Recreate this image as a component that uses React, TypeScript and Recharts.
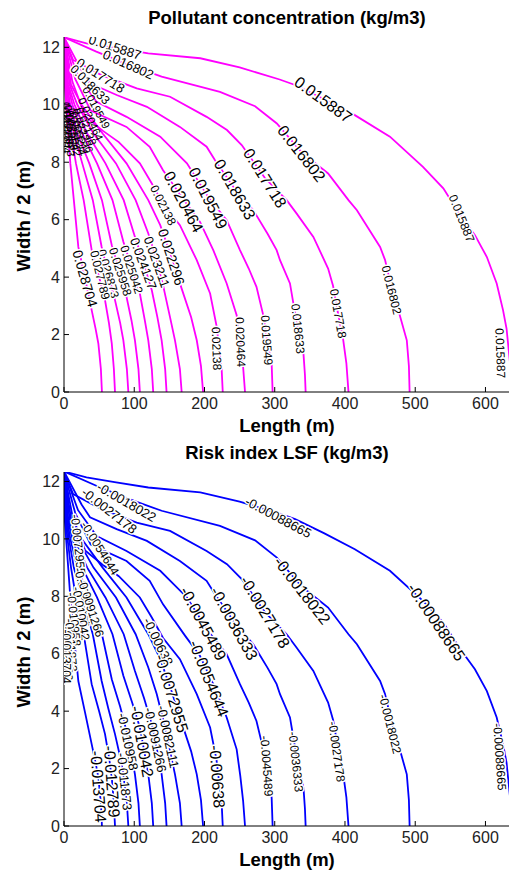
import React from 'react';
import { ComposedChart, Line, Scatter, XAxis, YAxis } from 'recharts';

type P = { x: number; y: number };
const pts = (a: number[][]): P[] => a.map(([x, y]) => ({ x, y }));

// contour paths (Length m, Width/2 m), outermost first
const c0 = pts([[0,12.35],[32,12.14],[72,11.98],[120,11.79],[194,11.62],[250,11.3],[307,10.88],[329,10.69],[370,10.2],[414,9.64],[464,8.89],[511,7.84],[540,7.09],[563,6.2],[585,5.46],[602,4.7],[616,3.78],[625,2.85],[630,2.21],[635,1.0],[637,0]]);
const c1 = pts([[0,12.35],[46,11.85],[91,11.4],[139,10.98],[222,10.45],[272,9.95],[303,9.35],[338,8.35],[376,7.61],[405,6.68],[417,6.33],[450,5.05],[457,4.6],[467,3.55],[478,2.67],[488,1.8],[491,0.9],[492,0]]);
const c2 = pts([[0,12.35],[13,11.56],[52,11.05],[103.5,10.57],[151,10.28],[203,9.58],[232,9.12],[253,8.6],[286,7.45],[317,6.68],[331,6.22],[355,5.4],[376,4.3],[383,3.7],[390,2.75],[397,1.9],[402,1.0],[405,0]]);
const c3 = pts([[0,12.35],[25,11.2],[37,10.75],[75,10.34],[118,9.93],[165,9.23],[203,8.54],[215,8.07],[243,7.08],[269.5,6.33],[290,5.5],[302.7,4.94],[307.5,4.59],[321.7,3.78],[326.4,3.1],[333,2.2],[341,1.3],[343,0.6],[344,0]]);
const c4 = pts([[0,12.35],[20,11.0],[46.5,10.1],[89,9.58],[137,8.89],[175,7.96],[205,6.8],[231.6,5.98],[250.5,4.94],[263,4.3],[274,3.66],[283.7,2.67],[289,1.8],[295.6,0.99],[297,0]]);
const c5 = pts([[0,12.35],[16,10.9],[38,9.8],[89,9.23],[122,8.54],[141,7.72],[172,6.64],[193.6,5.92],[212.5,4.94],[231.6,3.78],[245.8,2.67],[251,1.74],[255,0.87],[257.7,0]]);
const c6 = pts([[0,12.35],[12,10.8],[30,9.6],[55,9.1],[78,8.7],[108,7.96],[125,7.26],[141,6.55],[165,5.81],[189,4.59],[208,3.43],[217,2.32],[221,1.5],[224.5,0.76],[226,0]]);
const c7 = pts([[0,12.35],[10,10.7],[25,10.0],[55,9.0],[89,7.96],[120,6.68],[137,5.81],[153,4.7],[167.5,3.6],[181,2.6],[189,1.8],[195,0.9],[198,0]]);
const c8 = pts([[0,12.35],[8,10.7],[19,10.0],[42,9.0],[74,7.96],[102,6.68],[120,5.52],[132,4.6],[141,3.72],[151,2.6],[158,1.8],[165,0.8],[167.5,0]]);
const c9 = pts([[0,12.35],[6,10.7],[15,10.0],[33,9.0],[59,7.96],[85,6.68],[101,5.4],[114,4.45],[125,3.54],[133,2.6],[139,1.8],[144,0.8],[146,0]]);
const c10 = pts([[0,12.35],[5,10.7],[12,10.0],[26,9.0],[47,7.96],[69,6.68],[84.5,5.23],[97,4.3],[108,3.43],[115,2.5],[120,1.8],[125,0.8],[127,0]]);
const c11 = pts([[0,12.35],[4,10.7],[9,10.0],[19,9.0],[36,7.96],[54,6.68],[68,5.11],[80,4.15],[89,3.31],[96,2.5],[101,1.8],[106,0.8],[108,0]]);
const c12 = pts([[0,12.35],[3,10.7],[7,10.0],[14,9.0],[26,7.96],[41,6.68],[53.6,5.05],[63,4.1],[72.6,3.2],[80,2.4],[84.5,1.8],[89.5,0.8],[91.6,0]]);
const c13 = pts([[0,12.35],[2,10.7],[5,10.0],[10,9.0],[17,7.96],[28,6.68],[39.4,4.94],[50,4.0],[58.4,3.2],[64,2.4],[68,1.69],[71,0.8],[72.6,0]]);
const c14 = pts([[0,12.35],[1,10.7],[3,10.0],[6,9.0],[9,7.96],[14,6.68],[20.4,5.05],[30,3.95],[39.4,2.85],[45,2.2],[48.9,1.69],[52.5,0.8],[54,0]]);
const contours = [c0, c1, c2, c3, c4, c5, c6, c7, c8, c9, c10, c11, c12, c13, c14];

const xTicks = [0, 100, 200, 300, 400, 500, 600];
const yTicks = [0, 2, 4, 6, 8, 10, 12];

type L = { x: number; y: number; t: string; a: number; s: number; h: number };
const lab = (a: [number, number, string, number, number, number?][]): L[] =>
  a.map(([x, y, t, aa, s, h]) => ({ x, y, t, a: aa, s, h: h === undefined ? 1 : h }));

const concLabels = lab([
  [72.6, 12.0, '0.015887', 18, 13], [91.5, 11.4, '0.016802', 24, 13], [52, 11.02, '0.017718', 32, 13], [37, 10.7, '0.018633', 45, 12],
  [369, 10.18, '0.015887', 36, 16], [338, 8.3, '0.016802', 52, 16], [286, 7.45, '0.017718', 58, 16], [243, 7.05, '0.018633', 60, 16],
  [205, 6.75, '0.019549', 63, 16], [170, 6.62, '0.020464', 62, 16], [141, 6.5, '0.02138', 63, 12],
  [153, 4.7, '0.022296', 72, 14], [132, 4.53, '0.023211', 70, 13], [113, 4.47, '0.024127', 70, 13], [96, 4.26, '0.025042', 72, 12],
  [80, 4.18, '0.025958', 72, 12], [63, 4.12, '0.026873', 74, 12], [51, 4.07, '0.027789', 76, 12], [30, 3.95, '0.028704', 74, 14],
  [217, 1.51, '0.02138', 88, 12], [251, 1.74, '0.020464', 88, 12], [288.5, 1.8, '0.019549', 86, 12], [333, 2.2, '0.018633', 84, 12],
  [390, 2.73, '0.017718', 80, 12], [466, 3.55, '0.016802', 76, 12], [566, 6.04, '0.015887', 68, 12], [621, 1.35, '0.015887', 88, 12],
  [46, 9.9, '0.019549', 62, 11, 0], [38, 9.5, '0.020464', 66, 11, 0], [32, 9.25, '0.02138', 70, 11, 0], [27, 9.1, '0.022296', 72, 11, 0],
  [22, 9.0, '0.023211', 75, 11, 0], [18, 9.1, '0.024127', 78, 11, 0], [14, 9.0, '0.025042', 80, 11, 0], [10, 9.2, '0.025958', 82, 11, 0],
  [7, 9.0, '0.026873', 84, 11, 0], [5, 9.3, '0.027789', 86, 11, 0], [3, 9.1, '0.028704', 88, 11, 0],
]);

const lsfLabels = lab([
  [89, 11.28, '-0.0018022', 30, 13], [64.5, 10.98, '-0.0027178', 38, 13], [305, 10.75, '-0.00088665', 28, 13],
  [339, 8.2, '-0.0018022', 52, 16], [286, 7.45, '-0.0027178', 59, 16], [242, 7.05, '-0.0036333', 61, 16], [198, 7.05, '-0.0045489', 62, 16],
  [51, 9.67, '-0.0054644', 58, 12], [206, 5.14, '-0.0054644', 68, 16], [134, 6.42, '-0.00638', 64, 13], [153, 4.62, '-0.0072955', 73, 16],
  [148, 3.11, '-0.0082111', 78, 13], [130, 3.0, '-0.0091266', 78, 13], [111, 2.94, '-0.010042', 80, 16], [91, 2.94, '-0.010958', 78, 13],
  [86, 1.55, '-0.011873', 84, 13], [68, 1.55, '-0.012789', 86, 16], [49, 1.37, '-0.013704', 86, 16],
  [218, 1.72, '-0.00638', 86, 16], [288.5, 2.09, '-0.0045489', 86, 12], [330, 2.24, '-0.0036333', 84, 12], [388, 2.59, '-0.0027178', 82, 12],
  [464, 3.55, '-0.0018022', 76, 12], [530, 7.1, '-0.00088665', 56, 16], [620, 2.41, '-0.00088665', 86, 12],
  [20, 9.8, '-0.0072955', 84, 12], [30, 8.0, '-0.0082111', 76, 12], [38, 7.6, '-0.0091266', 72, 12], [24, 7.4, '-0.010042', 80, 12],
  [14, 7.2, '-0.010958', 84, 12], [10, 6.3, '-0.011873', 86, 12], [5, 6.0, '-0.012789', 88, 12], [3, 5.9, '-0.013704', 90, 12],
]);

const FONT = '"Liberation Sans", Arial, Helvetica, sans-serif';

const LabelShape = (props: any) => {
  const { cx, cy, payload } = props;
  if (cx == null || cy == null) return null;
  return (
    <text
      x={cx}
      y={cy}
      transform={`rotate(${payload.a} ${cx} ${cy})`}
      textAnchor="middle"
      dominantBaseline="central"
      fontSize={payload.s}
      fontFamily={FONT}
      fill="#000"
      stroke={payload.h ? '#fff' : 'none'}
      strokeWidth={3}
      strokeLinejoin="round"
      paintOrder="stroke"
    >
      {payload.t}
    </text>
  );
};

function Panel({ color, labels, height, yMax }: { color: string; labels: L[]; height: number; yMax: number }) {
  const tickStyle = { fill: '#222', fontSize: 16, fontFamily: FONT };
  return (
    <ComposedChart width={509} height={height} margin={{ top: 37, right: 0, bottom: 0, left: 0 }}>
      <XAxis xAxisId="b" type="number" dataKey="x" domain={[0, 633.5]} ticks={xTicks} interval={0} allowDataOverflow
        height={43} tickSize={-5} tickMargin={11} stroke="#000" tick={tickStyle} />
      <XAxis xAxisId="t" orientation="top" type="number" dataKey="x" domain={[0, 633.5]} ticks={xTicks} interval={0} allowDataOverflow
        height={0} tickSize={-5} stroke="#000" tick={false} />
      <YAxis yAxisId="l" type="number" dataKey="y" domain={[0, yMax]} ticks={yTicks} interval={0} allowDataOverflow
        width={64} tickSize={-5} tickMargin={9} stroke="#000" tick={tickStyle} />
      <YAxis yAxisId="r" orientation="right" type="number" dataKey="y" domain={[0, yMax]} ticks={yTicks} interval={0} allowDataOverflow
        width={0} tickSize={-5} stroke="#000" tick={false} />
      {contours.map((d, i) => (
        <Line key={i} xAxisId="b" yAxisId="l" data={d} dataKey="y" type="linear" stroke={color} strokeWidth={1.8}
          dot={false} activeDot={false} isAnimationActive={false} />
      ))}
      <Scatter xAxisId="b" yAxisId="l" data={labels} dataKey="y" shape={LabelShape} isAnimationActive={false} />
    </ComposedChart>
  );
}

export default function App() {
  const bold = { fontFamily: FONT, fontWeight: 700, fontSize: 18.5, fill: '#000' } as const;
  return (
    <div style={{ position: 'absolute', left: 0, top: 0, width: 509, height: 871, background: '#fff', overflow: 'hidden' }}>
      <div style={{ position: 'absolute', left: 0, top: 0 }}>
        <Panel color="#ff00ff" labels={concLabels} height={435} yMax={12.36} />
      </div>
      <div style={{ position: 'absolute', left: 0, top: 435 }}>
        <Panel color="#0000ff" labels={lsfLabels} height={434} yMax={12.33} />
      </div>
      <svg width={509} height={871} style={{ position: 'absolute', left: 0, top: 0, pointerEvents: 'none' }}>
        <text x={287} y={23.5} textAnchor="middle" {...bold}>Pollutant concentration (kg/m3)</text>
        <text x={287} y={431.5} textAnchor="middle" {...bold}>Length (m)</text>
        <text x={30} y={216} textAnchor="middle" transform="rotate(-90 30 216)" {...bold}>Width / 2 (m)</text>
        <text x={287} y={458.5} textAnchor="middle" {...bold}>Risk index LSF (kg/m3)</text>
        <text x={287} y={866} textAnchor="middle" {...bold}>Length (m)</text>
        <text x={30} y={652} textAnchor="middle" transform="rotate(-90 30 652)" {...bold}>Width / 2 (m)</text>
      </svg>
    </div>
  );
}
